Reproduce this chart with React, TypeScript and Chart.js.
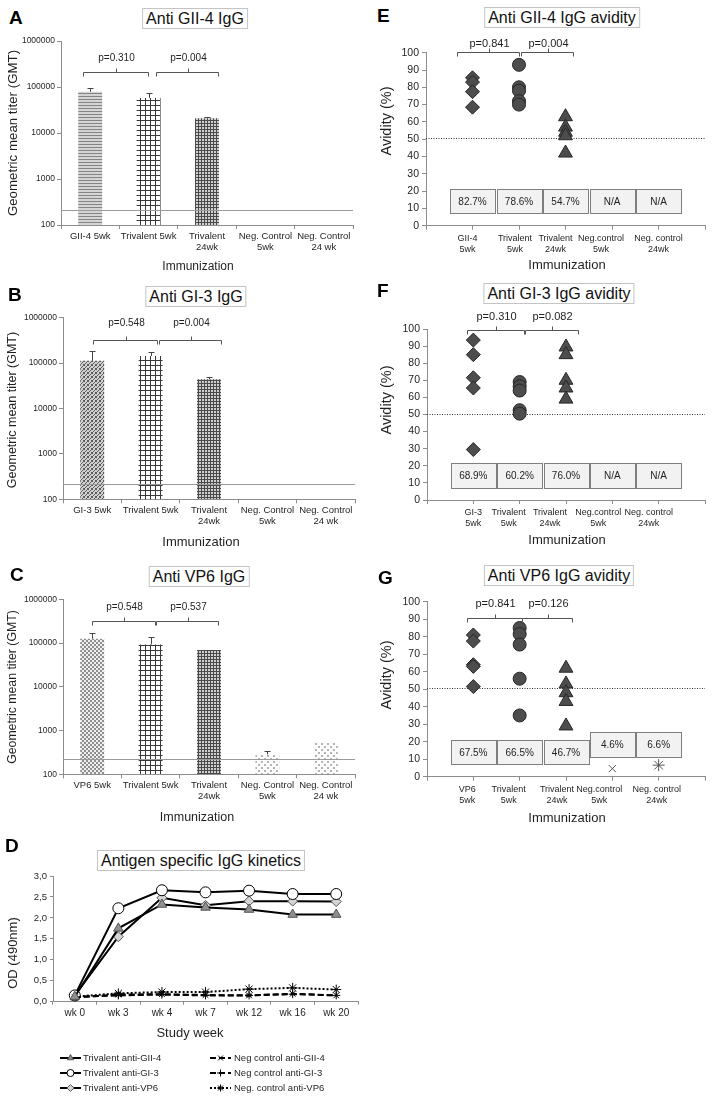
import React, { useEffect, useRef } from 'react';
import { Chart, registerables } from 'chart.js';
import { drawPoint } from 'chart.js/helpers';

Chart.register(...registerables);

const FONT = "'Liberation Sans', Arial, Helvetica, sans-serif";
const AXIS = '#8c8c8c';
const INK = '#1f1f1f';

// ---------------- Panels A–C : geometric mean titers ----------------
const gmtTicks = [100, 1000, 10000, 100000, 1000000];

const groupsA = ['GII-4 5wk', 'Trivalent 5wk', ['Trivalent', '24wk'], ['Neg. Control', '5wk'], ['Neg. Control', '24 wk']];
const gmtA = [79000, 58000, 21000, null, null];
const gmtErrA = [93000, 75000, 22000, null, null];
const cutoffA = 210;
const pValuesA = ['p=0.310', 'p=0.004'];

const groupsB = ['GI-3 5wk', 'Trivalent 5wk', ['Trivalent', '24wk'], ['Neg. Control', '5wk'], ['Neg. Control', '24 wk']];
const gmtB = [112000, 144000, 44000, null, null];
const gmtErrB = [186000, 180000, 50000, null, null];
const cutoffB = 214;
const pValuesB = ['p=0.548', 'p=0.004'];

const groupsC = ['VP6 5wk', 'Trivalent 5wk', ['Trivalent', '24wk'], ['Neg. Control', '5wk'], ['Neg. Control', '24 wk']];
const gmtC = [126000, 93000, 69000, 286, 528];
const gmtErrC = [172000, 135000, 71000, 346, null];
const cutoffC = 224;
const pValuesC = ['p=0.548', 'p=0.537'];

// ---------------- Panel D : kinetics ----------------
const weeks = ['wk 0', 'wk 3', 'wk 4', 'wk 7', 'wk 12', 'wk 16', 'wk 20'];
const odTicks = [0, 0.5, 1, 1.5, 2, 2.5, 3];
const triGII4 = [0.12, 1.75, 2.32, 2.25, 2.2, 2.08, 2.08];
const triGI3 = [0.15, 2.23, 2.66, 2.61, 2.65, 2.57, 2.57];
const triVP6 = [0.15, 1.55, 2.48, 2.3, 2.4, 2.4, 2.39];
const negGII4 = [0.1, 0.17, 0.18, 0.16, 0.15, 0.19, 0.15];
const negGI3 = [0.12, 0.15, 0.17, 0.15, 0.15, 0.18, 0.15];
const negVP6 = [0.12, 0.2, 0.23, 0.23, 0.3, 0.33, 0.29];

// ---------------- Panels E–G : avidity ----------------
const avidityTicks = [0, 10, 20, 30, 40, 50, 60, 70, 80, 90, 100];
const avidityThreshold = 50.5;

const avGroupsE = [['GII-4', '5wk'], ['Trivalent', '5wk'], ['Trivalent', '24wk'], ['Neg.control', '5wk'], ['Neg. control', '24wk']];
const avE_single = [85.5, 83, 77.5, 68.5];
const avE_tri5 = [93, 80, 78, 72, 70];
const avE_tri24 = [63, 57, 54, 52, 42];
const avE_median = ['82.7%', '78.6%', '54.7%', 'N/A', 'N/A'];
const pValuesE = ['p=0.841', 'p=0.004'];

const avGroupsF = [['GI-3', '5wk'], ['Trivalent', '5wk'], ['Trivalent', '24wk'], ['Neg.control', '5wk'], ['Neg. control', '24wk']];
const avF_single = [93.5, 85, 71.5, 65.5, 29.5];
const avF_tri5 = [69, 66.5, 64, 52.5, 50.5];
const avF_tri24 = [89.5, 85, 70, 65.5, 59];
const avF_median = ['68.9%', '60.2%', '76.0%', 'N/A', 'N/A'];
const pValuesF = ['p=0.310', 'p=0.082'];

const avGroupsG = [['VP6', '5wk'], ['Trivalent', '5wk'], ['Trivalent', '24wk'], ['Neg.control', '5wk'], ['Neg. control', '24wk']];
const avG_single = [81, 77.5, 64, 63, 51.5];
const avG_tri5 = [85, 81.5, 75.5, 56, 35];
const avG_tri24 = [62, 53, 48, 43, 29];
const avG_neg5 = [4.6];
const avG_neg24 = [6.6];
const avG_median = ['67.5%', '66.5%', '46.7%', '4.6%', '6.6%'];
const pValuesG = ['p=0.841', 'p=0.126'];

// ---------------- helpers ----------------
function makePattern(ctx: CanvasRenderingContext2D, kind: string): CanvasPattern | string {
  const c = document.createElement('canvas');
  const g = c.getContext('2d');
  if (!g) return '#999';
  const px = (x: number, y: number, w: number, h: number, col: string) => {
    g.fillStyle = col;
    g.fillRect(x, y, w, h);
  };
  if (kind === 'hlines') {
    c.width = 4; c.height = 3;
    px(0, 0, 4, 3, '#d4d4d4'); px(0, 0, 4, 1, '#858585');
  } else if (kind === 'grid') {
    c.width = 5; c.height = 5;
    px(0, 0, 5, 5, '#ffffff'); px(0, 0, 5, 1, '#383838'); px(0, 0, 1, 5, '#383838');
  } else if (kind === 'dense') {
    c.width = 3; c.height = 3;
    px(0, 0, 3, 3, '#cfcfcf'); px(0, 0, 3, 1, '#4a4a4a'); px(0, 0, 1, 3, '#4a4a4a');
  } else if (kind === 'stipple') {
    c.width = 4; c.height = 4;
    px(0, 0, 4, 4, '#d0d0d0');
    const dots = [[0, 0], [2, 1], [1, 2], [3, 3], [3, 0], [0, 3]];
    dots.forEach(([x, y]) => px(x, y, 1, 1, '#5e5e5e'));
  } else if (kind === 'checker') {
    c.width = 4; c.height = 4;
    px(0, 0, 4, 4, '#eeeeee'); px(0, 0, 2, 2, '#8f8f8f'); px(2, 2, 2, 2, '#8f8f8f');
  } else {
    c.width = 6; c.height = 6;
    px(0, 0, 6, 6, '#fbfbfb'); px(0, 0, 2, 2, '#b4b4b4'); px(3, 3, 2, 2, '#b4b4b4');
  }
  return ctx.createPattern(c, 'repeat') || '#999';
}

type Bracket = { x0: number; x1: number; y: number; label: string };
type Box = { x: number; lo: number; hi: number; text: string };
type Txt = { text: string; x: number; y: number; size: number; rotate?: boolean };
type LegendSpec = { cols: number[]; textCols: number[]; rows: number[]; lineLen: number; size: number };
type XLabels = { groups: any[]; shift: number[]; top: number; size: number; lineHeight: number };
type Annot = {
  ref?: { value: number; color: string; dash: number[]; under: boolean };
  errors?: (number | null)[];
  brackets?: Bracket[];
  labelGap?: number;
  labelSize?: number;
  boxes?: Box[];
  boxWidth?: number;
  boxSize?: number;
  texts?: Txt[];
  legend?: LegendSpec;
  xLabels?: XLabels;
};

function annotPlugin(a: Annot) {
  const drawRef = (chart: any) => {
    const { ctx, chartArea, scales } = chart;
    const r = a.ref!;
    const y = Math.round(scales.y.getPixelForValue(r.value)) + 0.5;
    ctx.save();
    ctx.strokeStyle = r.color;
    ctx.lineWidth = 1;
    ctx.setLineDash(r.dash);
    ctx.beginPath();
    ctx.moveTo(chartArea.left, y);
    ctx.lineTo(chartArea.right, y);
    ctx.stroke();
    ctx.restore();
  };
  return {
    id: 'annot',
    beforeDatasetsDraw(chart: any) {
      if (a.ref && a.ref.under) drawRef(chart);
    },
    afterDatasetsDraw(chart: any) {
      const { ctx, scales } = chart;
      const xs = scales.x;
      const ys = scales.y;
      if (a.ref && !a.ref.under) drawRef(chart);
      if (a.errors) {
        const meta = chart.getDatasetMeta(0);
        ctx.save();
        ctx.strokeStyle = '#444';
        ctx.lineWidth = 1;
        meta.data.forEach((el: any, i: number) => {
          const v = a.errors![i];
          if (v == null) return;
          const x = Math.round(el.x) + 0.5;
          const yt = Math.round(ys.getPixelForValue(v)) + 0.5;
          ctx.beginPath();
          ctx.moveTo(x, el.y);
          ctx.lineTo(x, yt);
          ctx.moveTo(x - 3, yt);
          ctx.lineTo(x + 3, yt);
          ctx.stroke();
        });
        ctx.restore();
      }
      if (a.boxes) {
        ctx.save();
        a.boxes.forEach((b) => {
          const cx = xs.getPixelForValue(b.x);
          const yt = Math.round(ys.getPixelForValue(b.hi)) + 0.5;
          const yb = Math.round(ys.getPixelForValue(b.lo)) + 0.5;
          const w = a.boxWidth || 45;
          const x0 = Math.round(cx - w / 2) + 0.5;
          ctx.fillStyle = '#f2f2f2';
          ctx.strokeStyle = '#7f7f7f';
          ctx.lineWidth = 1;
          ctx.fillRect(x0, yt, w, yb - yt);
          ctx.strokeRect(x0, yt, w, yb - yt);
          ctx.fillStyle = INK;
          ctx.font = `${a.boxSize || 10}px ${FONT}`;
          ctx.textAlign = 'center';
          ctx.textBaseline = 'middle';
          ctx.fillText(b.text, cx, (yt + yb) / 2 + 0.5);
        });
        ctx.restore();
      }
      if (a.brackets) {
        ctx.save();
        ctx.strokeStyle = '#555';
        ctx.lineWidth = 1;
        a.brackets.forEach((b) => {
          const x0 = Math.round(xs.getPixelForValue(b.x0)) + 0.5;
          const x1 = Math.round(xs.getPixelForValue(b.x1)) + 0.5;
          const y = Math.round(ys.getPixelForValue(b.y)) + 0.5;
          const xm = Math.round((x0 + x1) / 2) + 0.5;
          ctx.beginPath();
          ctx.moveTo(x0, y + 4);
          ctx.lineTo(x0, y);
          ctx.lineTo(x1, y);
          ctx.lineTo(x1, y + 4);
          ctx.moveTo(xm, y);
          ctx.lineTo(xm, y - 4);
          ctx.stroke();
          ctx.fillStyle = INK;
          ctx.font = `${a.labelSize || 10}px ${FONT}`;
          ctx.textAlign = 'center';
          ctx.textBaseline = 'middle';
          ctx.fillText(b.label, xm, y - (a.labelGap || 14));
        });
        ctx.restore();
      }
    },
    afterDraw(chart: any) {
      const { ctx, scales, chartArea } = chart;
      if (a.xLabels) {
        const X = a.xLabels;
        ctx.save();
        ctx.fillStyle = INK;
        ctx.font = `${X.size}px ${FONT}`;
        ctx.textAlign = 'center';
        ctx.textBaseline = 'middle';
        X.groups.forEach((g: any, i: number) => {
          const cx = scales.x.getPixelForValue(i + 1) + X.shift[i];
          const lines = Array.isArray(g) ? g : [g];
          lines.forEach((ln: string, k: number) => {
            ctx.fillText(ln, cx, chartArea.bottom + X.top + k * X.lineHeight);
          });
        });
        ctx.restore();
      }
      if (a.texts) {
        a.texts.forEach((t) => {
          ctx.save();
          ctx.fillStyle = INK;
          ctx.font = `${t.size}px ${FONT}`;
          ctx.textAlign = 'center';
          ctx.textBaseline = 'middle';
          ctx.translate(t.x, t.y);
          if (t.rotate) ctx.rotate(-Math.PI / 2);
          ctx.fillText(t.text, 0, 0);
          ctx.restore();
        });
      }
      if (a.legend) {
        const L = a.legend;
        chart.data.datasets.forEach((ds: any, i: number) => {
          const col = i % 2;
          const row = Math.floor(i / 2);
          const y = L.rows[row];
          const x0 = L.cols[col];
          ctx.save();
          ctx.strokeStyle = ds.borderColor;
          ctx.lineWidth = ds.borderWidth;
          ctx.setLineDash(ds.borderDash || []);
          ctx.beginPath();
          ctx.moveTo(x0, y);
          ctx.lineTo(x0 + L.lineLen, y);
          ctx.stroke();
          ctx.setLineDash([]);
          ctx.fillStyle = ds.pointBackgroundColor;
          ctx.strokeStyle = ds.pointBorderColor;
          ctx.lineWidth = 1;
          drawPoint(ctx, { pointStyle: ds.pointStyle, rotation: 0, radius: 3.5, borderWidth: 1 } as any, x0 + L.lineLen / 2, y);
          ctx.fillStyle = INK;
          ctx.font = `${L.size}px ${FONT}`;
          ctx.textAlign = 'left';
          ctx.textBaseline = 'middle';
          ctx.fillText(ds.label, L.textCols[col], y);
          ctx.restore();
        });
      }
    },
  };
}

type Geo = { padTop: number; padRight: number; padBottom?: number; yWidth: number; xHeight: number };

function baseOptions(geo: Geo) {
  return {
    animation: false,
    responsive: false,
    devicePixelRatio: 1,
    events: [],
    layout: { padding: { top: geo.padTop, right: geo.padRight, left: 0, bottom: geo.padBottom || 0 } },
    plugins: { legend: { display: false }, tooltip: { enabled: false }, title: { display: false } },
  };
}

function gmtConfig(
  ctx: CanvasRenderingContext2D,
  labels: any[],
  values: (number | null)[],
  errors: (number | null)[],
  patterns: string[],
  cutoff: number,
  brackets: Bracket[],
  geo: Geo,
  labelGap: number,
  texts: Txt[],
) {
  return {
    type: 'bar',
    data: {
      labels,
      datasets: [
        {
          data: values,
          backgroundColor: patterns.map((p) => makePattern(ctx, p)),
          borderWidth: 0,
          categoryPercentage: 1,
          barPercentage: 0.41,
        },
      ],
    },
    options: {
      ...baseOptions(geo),
      scales: {
        x: {
          type: 'category',
          grid: { offset: true, drawOnChartArea: false, tickLength: 4, color: AXIS },
          border: { color: AXIS },
          ticks: { font: { family: FONT, size: 9.5, lineHeight: 1.15 }, color: INK, padding: 2, maxRotation: 0, autoSkip: false },
          afterFit: (s: any) => { s.height = geo.xHeight; },
        },
        y: {
          type: 'logarithmic',
          min: 100,
          max: 1000000,
          grid: { drawOnChartArea: false, tickLength: 4, color: AXIS },
          border: { color: AXIS },
          ticks: { font: { family: FONT, size: 8.5 }, color: INK, padding: 2, callback: (v: any) => String(v) },
          afterBuildTicks: (s: any) => { s.ticks = gmtTicks.map((v) => ({ value: v })); },
          afterFit: (s: any) => { s.width = geo.yWidth; },
        },
      },
    },
    plugins: [
      annotPlugin({
        ref: { value: cutoff, color: '#9a9a9a', dash: [], under: false },
        errors,
        brackets,
        labelGap,
        labelSize: 10,
        texts,
      }),
    ],
  };
}

const pts = (x: number, vals: number[]) => vals.map((v) => ({ x, y: v }));
const MARK = { backgroundColor: '#4d4d4d', borderColor: '#262626', borderWidth: 1 };

function avidityConfig(
  groups: any[],
  labelShift: number[],
  datasets: any[],
  medians: string[],
  boxLo: number[],
  boxHi: number[],
  brackets: Bracket[],
  geo: Geo,
  labelGap: number,
  texts: Txt[],
) {
  return {
    type: 'scatter',
    data: { datasets },
    options: {
      ...baseOptions(geo),
      scales: {
        x: {
          type: 'linear',
          min: 0,
          max: 6,
          grid: { drawOnChartArea: false, tickLength: 4, color: AXIS },
          border: { color: AXIS },
          ticks: { stepSize: 1, autoSkip: false, maxRotation: 0, callback: () => '' },
          afterFit: (s: any) => { s.height = geo.xHeight; },
        },
        y: {
          min: 0,
          max: 100,
          grid: { drawOnChartArea: false, tickLength: 4, color: AXIS },
          border: { color: AXIS },
          ticks: { font: { family: FONT, size: 10.5 }, color: INK, padding: 3 },
          afterBuildTicks: (s: any) => { s.ticks = avidityTicks.map((v) => ({ value: v })); },
          afterFit: (s: any) => { s.width = geo.yWidth; },
        },
      },
    },
    plugins: [
      annotPlugin({
        ref: { value: avidityThreshold, color: '#333', dash: [1, 1.5], under: true },
        boxes: medians.map((t, i) => ({ x: i + 1, lo: boxLo[i], hi: boxHi[i], text: t })),
        boxWidth: 45,
        boxSize: 10,
        brackets,
        labelGap,
        labelSize: 11,
        texts,
        xLabels: { groups, shift: labelShift, top: 12.5, size: 9, lineHeight: 11 },
      }),
    ],
  };
}

function kineticsConfig() {
  const common = { tension: 0, borderWidth: 2, borderColor: '#000', pointBorderWidth: 1 };
  return {
    type: 'line',
    data: {
      labels: weeks,
      datasets: [
        { ...common, label: 'Trivalent anti-GII-4', data: triGII4, pointStyle: 'triangle', pointRadius: 5.5, pointBackgroundColor: '#8f8f8f', pointBorderColor: '#555' },
        { ...common, label: 'Neg control anti-GII-4', data: negGII4, borderDash: [6, 3], pointStyle: 'crossRot', pointRadius: 4, pointBackgroundColor: '#000', pointBorderColor: '#000' },
        { ...common, label: 'Trivalent anti-GI-3', data: triGI3, pointStyle: 'circle', pointRadius: 5.5, pointBackgroundColor: '#fff', pointBorderColor: '#000' },
        { ...common, label: 'Neg control anti-GI-3', data: negGI3, borderDash: [6, 3], pointStyle: 'cross', pointRadius: 4, pointBackgroundColor: '#000', pointBorderColor: '#000' },
        { ...common, label: 'Trivalent anti-VP6', data: triVP6, pointStyle: 'rectRot', pointRadius: 5, pointBackgroundColor: '#d4d4d4', pointBorderColor: '#555' },
        { ...common, label: 'Neg. control anti-VP6', data: negVP6, borderDash: [2, 2], pointStyle: 'star', pointRadius: 5, pointBackgroundColor: '#000', pointBorderColor: '#000' },
      ],
    },
    options: {
      ...baseOptions({ padTop: 10, padRight: 22, padBottom: 55.3, yWidth: 53, xHeight: 45 }),
      scales: {
        x: {
          type: 'category',
          offset: true,
          grid: { offset: true, drawOnChartArea: false, tickLength: 3, color: AXIS },
          border: { color: AXIS },
          ticks: { font: { family: FONT, size: 10 }, color: INK, padding: 3, maxRotation: 0, autoSkip: false },
          afterFit: (s: any) => { s.height = 45; },
        },
        y: {
          min: 0,
          max: 3,
          grid: { drawOnChartArea: false, tickLength: 3, color: AXIS },
          border: { color: AXIS },
          ticks: { font: { family: FONT, size: 9.5 }, color: INK, padding: 3, callback: (v: any) => Number(v).toFixed(1).replace('.', ',') },
          afterBuildTicks: (s: any) => { s.ticks = odTicks.map((v) => ({ value: v })); },
          afterFit: (s: any) => { s.width = 53; },
        },
      },
    },
    plugins: [
      annotPlugin({
        texts: [
          { text: 'OD (490nm)', x: 13, y: 87, size: 13, rotate: true },
          { text: 'Study week', x: 190, y: 167, size: 13 },
        ],
        legend: { cols: [60, 210], textCols: [83, 234], rows: [192, 207, 222], lineLen: 21, size: 9.5 },
      }),
    ],
  };
}

function ChartPanel(props: { left: number; top: number; width: number; height: number; make: (ctx: CanvasRenderingContext2D) => any }) {
  const ref = useRef<HTMLCanvasElement>(null);
  useEffect(() => {
    const canvas = ref.current;
    if (!canvas) return;
    const ctx = canvas.getContext('2d');
    if (!ctx) return;
    const chart = new Chart(canvas, props.make(ctx));
    return () => chart.destroy();
  }, []);
  return (
    <div style={{ position: 'absolute', left: props.left, top: props.top, width: props.width, height: props.height }}>
      <canvas ref={ref} width={props.width} height={props.height} style={{ width: props.width, height: props.height, display: 'block' }} />
    </div>
  );
}

function Letter(props: { ch: string; left: number; top: number }) {
  return (
    <div style={{ position: 'absolute', left: props.left, top: props.top - 2.5, font: `bold 19px ${FONT}`, lineHeight: '19px', color: '#000' }}>
      {props.ch}
    </div>
  );
}

function TitleBox(props: { text: string; cx: number; top: number; height: number }) {
  return (
    <div
      style={{
        position: 'absolute',
        left: props.cx,
        top: props.top,
        height: props.height - 2,
        transform: 'translateX(-50%)',
        border: '1px solid #c4c4c4',
        padding: '0 3px',
        font: `16px ${FONT}`,
        lineHeight: `${props.height - 2}px`,
        whiteSpace: 'nowrap',
        color: '#111',
        background: '#fff',
      }}
    >
      {props.text}
    </div>
  );
}

export default function App() {
  const gmtText = (x: number, y: number, size: number) => ({ text: 'Immunization', x, y, size });
  const gmtY = (y: number, size: number) => ({ text: 'Geometric mean titer (GMT)', x: 13, y, size, rotate: true });
  const avX = (y: number) => ({ text: 'Immunization', x: 207, y, size: 13 });
  const avY = (y: number) => ({ text: 'Avidity (%)', x: 27, y, size: 14.5, rotate: true });

  return (
    <div style={{ position: 'absolute', left: 0, top: 0, width: 714, height: 1102, background: '#fff', overflow: 'hidden' }}>
      <ChartPanel
        left={0} top={30} width={360} height={250}
        make={(ctx) =>
          gmtConfig(ctx, groupsA, gmtA, gmtErrA, ['hlines', 'grid', 'dense', 'dots', 'dots'], cutoffA,
            [
              { x0: -0.12, x1: 0.99, y: 214000, label: pValuesA[0] },
              { x0: 1.13, x1: 2.19, y: 214000, label: pValuesA[1] },
            ],
            { padTop: 11, padRight: 7, yWidth: 61, xHeight: 55 }, 14,
            [gmtY(103, 13.3), gmtText(198, 237, 12)])
        }
      />
      <ChartPanel
        left={0} top={305} width={360} height={250}
        make={(ctx) =>
          gmtConfig(ctx, groupsB, gmtB, gmtErrB, ['stipple', 'grid', 'dense', 'dots', 'dots'], cutoffB,
            [
              { x0: 0.01, x1: 1.11, y: 324000, label: pValuesB[0] },
              { x0: 1.14, x1: 2.2, y: 324000, label: pValuesB[1] },
            ],
            { padTop: 12.7, padRight: 5, yWidth: 63, xHeight: 55.7 }, 17,
            [gmtY(105, 12.5), gmtText(201, 237, 13)])
        }
      />
      <ChartPanel
        left={0} top={590} width={360} height={245}
        make={(ctx) =>
          gmtConfig(ctx, groupsC, gmtC, gmtErrC, ['checker', 'grid', 'dense', 'dots', 'dots'], cutoffC,
            [
              { x0: 0.0, x1: 1.08, y: 324000, label: pValuesC[0] },
              { x0: 1.09, x1: 2.15, y: 324000, label: pValuesC[1] },
            ],
            { padTop: 9.3, padRight: 5, yWidth: 63, xHeight: 60.7 }, 14,
            [gmtY(97, 12.3), gmtText(197, 228, 12.5)])
        }
      />
      <ChartPanel left={0} top={866} width={380} height={236} make={() => kineticsConfig()} />
      <ChartPanel
        left={360} top={30} width={354} height={250}
        make={() =>
          avidityConfig(
            avGroupsE, [-5, -4, -10, -11, 0],
            [
              { data: pts(1, avE_single), pointStyle: 'rectRot', pointRadius: 7, ...MARK },
              { data: pts(2, avE_tri5), pointStyle: 'circle', pointRadius: 6.5, ...MARK },
              { data: pts(3, avE_tri24), pointStyle: 'triangle', pointRadius: 8, ...MARK },
            ],
            avE_median, [7.3, 7.3, 7.3, 7.3, 7.3], [21.2, 21.2, 21.2, 21.2, 21.2],
            [
              { x0: 0.67, x1: 2.0, y: 100.6, label: pValuesE[0] },
              { x0: 2.04, x1: 3.16, y: 100.6, label: pValuesE[1] },
            ],
            { padTop: 22.7, padRight: 9, yWidth: 66, xHeight: 54.3 }, 9,
            [avY(91), avX(235)])
        }
      />
      <ChartPanel
        left={360} top={305} width={354} height={250}
        make={() =>
          avidityConfig(
            avGroupsF, [0, -11, -16, -14, -10],
            [
              { data: pts(1, avF_single), pointStyle: 'rectRot', pointRadius: 7, ...MARK },
              { data: pts(2, avF_tri5), pointStyle: 'circle', pointRadius: 6.5, ...MARK },
              { data: pts(3, avF_tri24), pointStyle: 'triangle', pointRadius: 8, ...MARK },
            ],
            avF_median, [6.8, 6.8, 6.8, 6.8, 6.8], [21.4, 21.4, 21.4, 21.4, 21.4],
            [
              { x0: 0.86, x1: 2.1, y: 99.4, label: pValuesF[0] },
              { x0: 2.12, x1: 3.26, y: 99.4, label: pValuesF[1] },
            ],
            { padTop: 24, padRight: 7, yWidth: 67, xHeight: 55 }, 14,
            [avY(95), avX(235)])
        }
      />
      <ChartPanel
        left={360} top={590} width={354} height={250}
        make={() =>
          avidityConfig(
            avGroupsG, [-6, -11, -9, -13, -2],
            [
              { data: pts(1, avG_single), pointStyle: 'rectRot', pointRadius: 7, ...MARK },
              { data: pts(2, avG_tri5), pointStyle: 'circle', pointRadius: 6.5, ...MARK },
              { data: pts(3, avG_tri24), pointStyle: 'triangle', pointRadius: 8, ...MARK },
              { data: pts(4, avG_neg5), pointStyle: 'crossRot', pointRadius: 5, backgroundColor: '#555', borderColor: '#555', borderWidth: 1 },
              { data: pts(5, avG_neg24), pointStyle: 'star', pointRadius: 6, backgroundColor: '#555', borderColor: '#555', borderWidth: 1 },
            ],
            avG_median, [7, 7, 7, 11.4, 11.4], [21, 21, 21, 25.3, 25.3],
            [
              { x0: 0.86, x1: 2.06, y: 90.7, label: pValuesG[0] },
              { x0: 2.06, x1: 3.13, y: 90.7, label: pValuesG[1] },
            ],
            { padTop: 11.7, padRight: 7, yWidth: 67, xHeight: 63.3 }, 15,
            [avY(85), avX(228)])
        }
      />

      <Letter ch="A" left={9} top={10} />
      <Letter ch="B" left={8} top={287} />
      <Letter ch="C" left={10} top={567} />
      <Letter ch="D" left={5} top={838} />
      <Letter ch="E" left={377} top={8} />
      <Letter ch="F" left={377} top={283} />
      <Letter ch="G" left={378} top={570} />

      <TitleBox text="Anti GII-4 IgG" cx={195} top={8} height={21} />
      <TitleBox text="Anti GI-3 IgG" cx={196} top={286} height={21} />
      <TitleBox text="Anti VP6 IgG" cx={199} top={566} height={21} />
      <TitleBox text="Antigen specific IgG kinetics" cx={201} top={850} height={21} />
      <TitleBox text="Anti GII-4 IgG avidity" cx={562} top={7} height={21} />
      <TitleBox text="Anti GI-3 IgG avidity" cx={559} top={283} height={21} />
      <TitleBox text="Anti VP6 IgG avidity" cx={559} top={565} height={21} />
    </div>
  );
}
